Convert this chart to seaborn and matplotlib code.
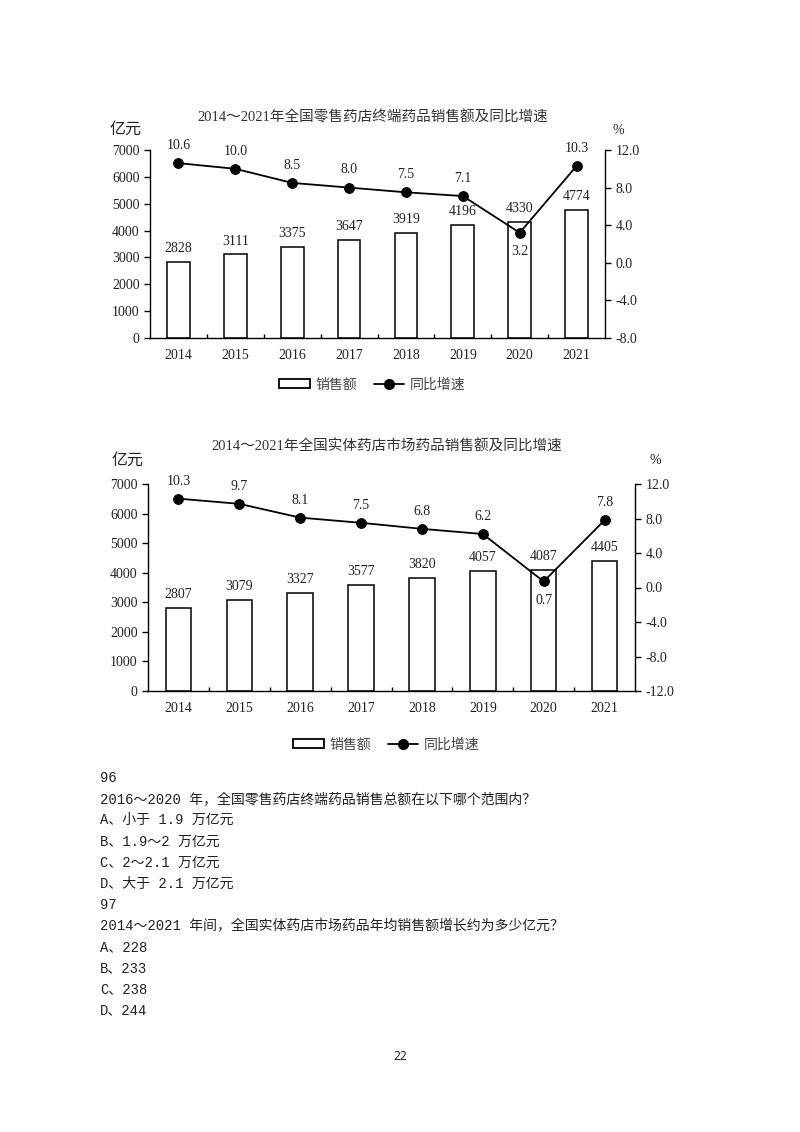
import matplotlib
matplotlib.use('Agg')
import matplotlib.pyplot as plt
import numpy as np
import pandas as pd
import seaborn as sns
from matplotlib.patches import Rectangle
from matplotlib.lines import Line2D
from matplotlib.ticker import FixedLocator

# data
years = ['2014', '2015', '2016', '2017', '2018', '2019', '2020', '2021']
retail_sales = [2828, 3111, 3375, 3647, 3919, 4196, 4330, 4774]
retail_growth = [10.6, 10.0, 8.5, 8.0, 7.5, 7.1, 3.2, 10.3]
store_sales = [2807, 3079, 3327, 3577, 3820, 4057, 4087, 4405]
store_growth = [10.3, 9.7, 8.1, 7.5, 6.8, 6.2, 0.7, 7.8]

title1 = '2014～2021年全国零售药店终端药品销售额及同比增速'
title2 = '2014～2021年全国实体药店市场药品销售额及同比增速'

questions = [
    '96',
    '2016～2020 年，全国零售药店终端药品销售总额在以下哪个范围内？',
    'A、小于 1.9 万亿元',
    'B、1.9～2 万亿元',
    'C、2～2.1 万亿元',
    'D、大于 2.1 万亿元',
    '97',
    '2014～2021 年间，全国实体药店市场药品年均销售额增长约为多少亿元？',
    'A、228',
    'B、233',
    'C、238',
    'D、244',
]

sns.set_theme(style='white')
FONT = ['Liberation Serif', 'Noto Sans CJK SC', 'DejaVu Sans']
plt.rcParams['font.family'] = FONT
plt.rcParams['axes.unicode_minus'] = False
INK = '#222222'

W, H = 800, 1132
fig = plt.figure(figsize=(W / 100, H / 100), dpi=100)
fig.patch.set_facecolor('white')


def px(x, y):
    return x / W, 1 - y / H


def draw_chart(box, title, sales, growth, gmin, bar_w, title_y, unit_pos, pct_pos, legend_y):
    l, t, r, b = box
    ax = fig.add_axes([l / W, 1 - b / H, (r - l) / W, (b - t) / H])
    df = pd.DataFrame({'year': years, 'sales': sales, 'growth': growth})

    sns.barplot(data=df, x='year', y='sales', ax=ax, color='white',
                edgecolor='black', linewidth=1.1, width=bar_w)
    ax.set_xlim(-0.5, len(years) - 0.5)
    ax.set_ylim(0, 7000)
    ax.set_yticks(range(0, 7001, 1000))
    ax.set_xlabel('')
    ax.set_ylabel('')
    for s in ['top', 'right']:
        ax.spines[s].set_visible(False)
    for s in ['left', 'bottom']:
        ax.spines[s].set_color('black')
        ax.spines[s].set_linewidth(1.0)
    ax.tick_params(axis='y', direction='out', length=4, width=1, colors='black',
                   labelsize=10, labelcolor=INK, left=True)
    ax.tick_params(axis='x', length=0, labelsize=10, labelcolor=INK, pad=8)
    ax.xaxis.set_minor_locator(FixedLocator(np.arange(0.5, len(years) - 1, 1)))
    ax.tick_params(axis='x', which='minor', direction='in', length=3, width=1,
                   colors='black', bottom=True)
    for i, v in enumerate(sales):
        ax.annotate(str(v), (i, v), xytext=(0, 5), textcoords='offset points',
                    ha='center', va='bottom', fontsize=10, color=INK)

    ax2 = ax.twinx()
    sns.lineplot(x=np.arange(len(years)), y=growth, ax=ax2, color='black',
                 linewidth=1.3, marker='o', markersize=7,
                 markerfacecolor='black', markeredgecolor='black')
    ax2.set_ylim(gmin, 12)
    ax2.set_yticks(np.arange(gmin, 12.1, 4))
    ax2.set_yticklabels([f'{v:.1f}' for v in np.arange(gmin, 12.1, 4)])
    for s in ['top', 'left', 'bottom']:
        ax2.spines[s].set_visible(False)
    ax2.spines['right'].set_color('black')
    ax2.spines['right'].set_linewidth(1.0)
    ax2.tick_params(axis='y', direction='out', length=4, width=1, colors='black',
                    labelsize=10, labelcolor=INK, right=True)
    ax2.grid(False)
    ax.grid(False)
    for i, v in enumerate(growth):
        below = years[i] == '2020'
        ax2.annotate(f'{v:.1f}', (i, v), xytext=(0, -9 if below else 8),
                     textcoords='offset points', ha='center',
                     va='top' if below else 'bottom', fontsize=10, color=INK)

    tx, ty = px((l + r) / 2 - 5, title_y)
    fig.text(tx, ty, title, ha='center', va='center', fontsize=10.5,
             fontweight='medium', color='#333333')
    ux, uy = px(*unit_pos)
    fig.text(ux, uy, '亿元', ha='center', va='center', fontsize=11.5, color=INK)
    qx, qy = px(*pct_pos)
    fig.text(qx, qy, '%', ha='center', va='center', fontsize=10, color=INK)

    handles = [Rectangle((0, 0), 1, 1, facecolor='white', edgecolor='black', linewidth=1.3),
               Line2D([], [], color='black', linewidth=1.3, marker='o', markersize=7)]
    lx, ly = px((l + r) / 2 - 5, legend_y)
    fig.legend(handles, ['销售额', '同比增速'], loc='center', bbox_to_anchor=(lx, ly),
               ncol=2, frameon=False, fontsize=10, handlelength=2.2, handleheight=0.6,
               columnspacing=1.2, handletextpad=0.4, labelcolor='#444444')
    return ax


draw_chart((150, 150, 605, 338), title1, retail_sales, retail_growth, -8, 0.4,
           117, (126, 130), (618, 130), 385)
draw_chart((148, 484, 635, 691), title2, store_sales, store_growth, -12, 0.42,
           447, (128, 461), (655, 461), 745)

# question text below the charts
y0 = 778
for k, line in enumerate(questions):
    x, y = px(100, y0 + k * 21.1)
    fig.text(x, y, line, ha='left', va='center', fontsize=10, color=INK,
             family=['Liberation Mono', 'Noto Sans CJK SC'])

x, y = px(400, 1057)
fig.text(x, y, '22', ha='center', va='center', fontsize=8.5, color=INK,
         family=['Noto Sans', 'DejaVu Sans'])

fig.savefig('out.png', dpi=100, facecolor='white')
